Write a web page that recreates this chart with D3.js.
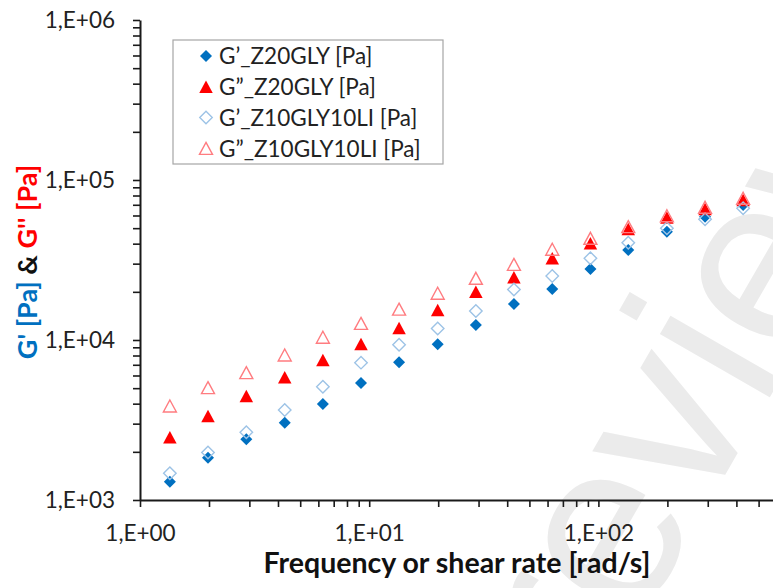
<!DOCTYPE html>
<html>
<head>
<meta charset="utf-8">
<script src="https://cdn.jsdelivr.net/npm/d3@7"></script>
<style>
  html, body { margin: 0; padding: 0; background: #fff; }
  svg { display: block; font-family: Lato, "Open Sans", sans-serif; }
</style>
</head>
<body>
<svg id="chart" width="773" height="588"></svg>
<script>
// ---- data ----
const frequency = [1.35, 1.98, 2.91, 4.28, 6.28, 9.21, 13.5, 19.9, 29.2, 42.8, 62.9, 92.3, 135, 199, 292, 428];
const gPrimeZ20GLY      = [1300, 1840, 2400, 3040, 3980, 5380, 7250, 9400, 12400, 16800, 20800, 27800, 36500, 47500, 59000, 69800];
const gDoublePrimeZ20GLY = [2470, 3350, 4470, 5840, 7500, 9440, 11900, 15400, 20000, 24700, 32400, 40200, 49400, 58200, 65900, 75000];
const gPrimeZ10GLY10LI  = [1470, 1980, 2650, 3650, 5110, 7220, 9350, 11800, 15200, 20700, 25100, 32400, 40600, 49900, 56800, 66500];
const gDoublePrimeZ10GLY10LI = [3870, 5040, 6250, 8060, 10400, 12700, 15600, 19600, 24300, 29700, 36900, 43200, 51100, 59800, 67500, 76900];
const seriesNames = ["G’_Z20GLY [Pa]", "G”_Z20GLY [Pa]", "G’_Z10GLY10LI [Pa]", "G”_Z10GLY10LI [Pa]"];
const xDomain = [1, 1000];
const yDomain = [1000, 1000000];
const xTitle = "Frequency or shear rate [rad/s]";
const yTitleParts = ["G' [Pa]", " & ", "G'' [Pa]"];
const watermark = "review";

// ---- styles ----
const styles = [
  { shape: "diamond",  fill: "#0070C0", stroke: "none",    sw: 0,   w: 12, h: 12 },
  { shape: "triangle", fill: "#FF0000", stroke: "none",    sw: 0,   w: 13.5, h: 12.5 },
  { shape: "diamond",  fill: "none",    stroke: "#9DC3E6", sw: 1.4, w: 12.5, h: 12.5 },
  { shape: "triangle", fill: "none",    stroke: "#FF7C80", sw: 1.4, w: 13, h: 12 }
];
const seriesValues = [gPrimeZ20GLY, gDoublePrimeZ20GLY, gPrimeZ10GLY10LI, gDoublePrimeZ10GLY10LI];

const svg = d3.select("#chart");

// watermark (behind everything)
svg.append("text")
  .attr("transform", "translate(595,700) rotate(-60)")
  .attr("font-family", "Liberation Sans, Arial, sans-serif")
  .attr("font-size", 240)
  .attr("fill", "#EBEBEB")
  .text(watermark);

const x = d3.scaleLog().domain(xDomain).range([140, 140 + 3 * 229.2]);
const y = d3.scaleLog().domain(yDomain).range([500, 20]);

function fmt(d) {
  const e = Math.round(Math.log10(d));
  if (Math.abs(Math.log10(d) - e) > 1e-9) return "";
  return "1,E+" + (e < 10 ? "0" + e : e);
}

const tickFont = 22.5;
const yAxis = d3.axisLeft(y).tickValues(y.ticks()).tickFormat(fmt).tickSize(7).tickSizeOuter(0).tickPadding(18);
const xAxis = d3.axisBottom(x).tickValues(x.ticks()).tickFormat(fmt).tickSize(7).tickSizeOuter(0).tickPadding(18);

const gy = svg.append("g").attr("transform", "translate(140,0)").call(yAxis);
const gx = svg.append("g").attr("transform", "translate(0,500)").call(xAxis);
[gx, gy].forEach(g => {
  g.select(".domain").attr("stroke", "#1a1a1a").attr("stroke-width", 2);
  g.selectAll(".tick line").attr("stroke", "#1a1a1a").attr("stroke-width", 1.6);
  g.selectAll(".tick text").attr("font-size", tickFont).attr("fill", "#222").attr("font-family", "Lato, sans-serif");
});

// marker path generator
function markerPath(shape, w, h) {
  if (shape === "diamond") {
    return `M0,${-h/2}L${w/2},0L0,${h/2}L${-w/2},0Z`;
  }
  return `M0,${-h/2}L${w/2},${h/2}L${-w/2},${h/2}Z`;
}

const plot = svg.append("g");
seriesValues.forEach((vals, i) => {
  const s = styles[i];
  plot.append("g").selectAll("path")
    .data(frequency.map((f, j) => [f, vals[j]]))
    .join("path")
    .attr("d", markerPath(s.shape, s.w, s.h))
    .attr("transform", d => `translate(${x(d[0])},${y(d[1])})`)
    .attr("fill", s.fill)
    .attr("stroke", s.stroke)
    .attr("stroke-width", s.sw);
});

// legend
const leg = svg.append("g");
leg.append("rect").attr("x", 173).attr("y", 40).attr("width", 270).attr("height", 124)
  .attr("fill", "#fff").attr("stroke", "#A6A6A6").attr("stroke-width", 1.2);
seriesNames.forEach((name, i) => {
  const s = styles[i];
  const cy = 56 + i * 30.8;
  leg.append("path").attr("d", markerPath(s.shape, s.w, s.h))
    .attr("transform", `translate(206,${cy})`)
    .attr("fill", s.fill).attr("stroke", s.stroke).attr("stroke-width", s.sw);
  leg.append("text").attr("x", 219).attr("y", cy).attr("dy", "0.36em")
    .attr("font-size", 22.5).attr("fill", "#222").text(name);
});

// x title
svg.append("text").attr("x", 457).attr("y", 573).attr("text-anchor", "middle")
  .attr("font-size", 28.5).attr("font-weight", "bold").attr("fill", "#111").text(xTitle);

// y title
const yt = svg.append("text").attr("transform", "translate(37,262) rotate(-90)")
  .attr("text-anchor", "middle").attr("font-size", 27).attr("font-weight", "bold");
const yColors = ["#0070C0", "#111", "#FF0000"];
yTitleParts.forEach((p, i) => yt.append("tspan").attr("fill", yColors[i]).style("white-space", "pre").text(p));
</script>
</body>
</html>
